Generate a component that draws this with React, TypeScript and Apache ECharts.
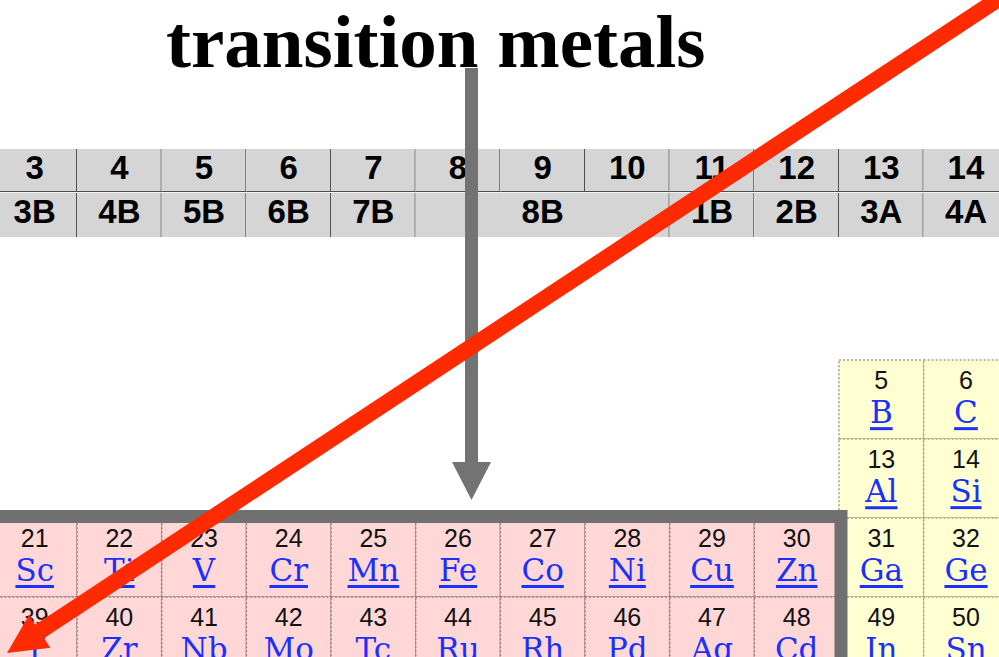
import React, { useEffect, useRef } from 'react';
import * as echarts from 'echarts';

// ---- data ----
const titleText = 'transition metals';
const groupNumbers = [3, 4, 5, 6, 7, 8, 9, 10, 11, 12, 13, 14];
const casLabels = ['3B', '4B', '5B', '6B', '7B', '8B', '1B', '2B', '3A', '4A'];
const casSpans = [1, 1, 1, 1, 1, 3, 1, 1, 1, 1];

const symbols = ['B', 'C', 'Al', 'Si',
  'Sc', 'Ti', 'V', 'Cr', 'Mn', 'Fe', 'Co', 'Ni', 'Cu', 'Zn', 'Ga', 'Ge',
  'Y', 'Zr', 'Nb', 'Mo', 'Tc', 'Ru', 'Rh', 'Pd', 'Ag', 'Cd', 'In', 'Sn'];
const atomicNumbers = [5, 6, 13, 14,
  21, 22, 23, 24, 25, 26, 27, 28, 29, 30, 31, 32,
  39, 40, 41, 42, 43, 44, 45, 46, 47, 48, 49, 50];
const elementGroups = [13, 14, 13, 14,
  3, 4, 5, 6, 7, 8, 9, 10, 11, 12, 13, 14,
  3, 4, 5, 6, 7, 8, 9, 10, 11, 12, 13, 14];
const elementPeriods = [2, 2, 3, 3,
  4, 4, 4, 4, 4, 4, 4, 4, 4, 4, 4, 4,
  5, 5, 5, 5, 5, 5, 5, 5, 5, 5, 5, 5];
const elementBlocks = ['p', 'p', 'p', 'p',
  'd', 'd', 'd', 'd', 'd', 'd', 'd', 'd', 'd', 'd', 'p', 'p',
  'd', 'd', 'd', 'd', 'd', 'd', 'd', 'd', 'd', 'd', 'p', 'p'];

const boxGroups = [3, 12];
const boxPeriods = [4, 7];

// ---- styles ----
const PINK = '#ffd7d7';
const YELLOW = '#ffffd2';
const BLUE = '#1a30ff';
const HEADER_BG = '#d5d5d5';
const ARROW_GRAY = '#737373';
const RED = '#ff2a00';
const SYMBOL_FONT = '31px "DejaVu Serif"';
const NUMBER_FONT = '25px "Liberation Sans"';
const HEADER_FONT = 'bold 33px "Liberation Sans"';

let measureCtx: CanvasRenderingContext2D | null = null;
function measure(text: string, font: string): number {
  if (!measureCtx) measureCtx = document.createElement('canvas').getContext('2d');
  if (!measureCtx) return text.length * 18;
  measureCtx.font = font;
  return measureCtx.measureText(text).width;
}

const headerLabels: string[] = [...groupNumbers.map(String), ...casLabels];
const headerData: number[][] = [];
groupNumbers.forEach((g, i) => headerData.push([g, g, 0, i]));
{
  let start = groupNumbers[0];
  casLabels.forEach((_, i) => {
    headerData.push([start, start + casSpans[i] - 1, 1, groupNumbers.length + i]);
    start += casSpans[i];
  });
}

const elementData = symbols.map((_, i) => [elementGroups[i], elementPeriods[i], i]);
const boxData = [[boxGroups[0], boxGroups[1], boxPeriods[0], boxPeriods[1]]];

function txt(x: number, y: number, text: string, font: string, fill: string) {
  return {
    type: 'text',
    x, y,
    style: {
      text, font, fill,
      align: 'center', verticalAlign: 'middle',
      textAlign: 'center', textVerticalAlign: 'middle',
    },
  };
}

const headerRender = (_params: any, api: any) => {
  const x0 = api.value(0), x1 = api.value(1), row = api.value(2), li = api.value(3);
  const tl = api.coord([x0 - 0.5, row]);
  const br = api.coord([x1 + 0.5, row + 1]);
  const x = tl[0], y = tl[1], w = br[0] - tl[0], h = br[1] - tl[1];
  const children: any[] = [
    { type: 'rect', shape: { x, y, width: w, height: h }, style: { fill: HEADER_BG } },
    { type: 'line', shape: { x1: br[0] - 0.5, y1: y, x2: br[0] - 0.5, y2: br[1] }, style: { stroke: '#4d4d4d', lineWidth: 1 } },
    { type: 'line', shape: { x1: br[0] + 0.5, y1: y, x2: br[0] + 0.5, y2: br[1] }, style: { stroke: '#f4f4f4', lineWidth: 1 } },
  ];
  if (row === 0) {
    children.push({ type: 'line', shape: { x1: x, y1: br[1] - 1.5, x2: br[0], y2: br[1] - 1.5 }, style: { stroke: '#4d4d4d', lineWidth: 1 } });
    children.push({ type: 'line', shape: { x1: x, y1: br[1] - 0.5, x2: br[0], y2: br[1] - 0.5 }, style: { stroke: '#f4f4f4', lineWidth: 1 } });
  }
  const ty = y + h * (row === 0 ? 0.43 : 0.41);
  children.push(txt((x + br[0]) / 2, ty, headerLabels[li], HEADER_FONT, '#000'));
  return { type: 'group', children };
};

const elementRender = (_params: any, api: any) => {
  const g = api.value(0), p = api.value(1), i = api.value(2);
  const tl = api.coord([g - 0.5, p - 0.5]);
  const br = api.coord([g + 0.5, p + 0.5]);
  const x = tl[0], y = tl[1], w = br[0] - tl[0], h = br[1] - tl[1];
  const isD = elementBlocks[i] === 'd';
  const sym = symbols[i];
  const cx = x + w / 2;
  const tw = measure(sym, SYMBOL_FONT);
  return {
    type: 'group',
    children: [
      {
        type: 'rect', shape: { x, y, width: w, height: h },
        style: { fill: isD ? PINK : YELLOW, stroke: isD ? '#8f7a7a' : '#a3a378', lineWidth: 1.5, lineDash: [2, 2] },
      },
      txt(cx, y + h * 0.253, String(atomicNumbers[i]), NUMBER_FONT, '#111'),
      txt(cx, y + h * 0.66, sym, SYMBOL_FONT, BLUE),
      { type: 'rect', shape: { x: cx - tw / 2, y: y + h * 0.85, width: tw, height: 3 }, style: { fill: BLUE } },
    ],
  };
};

const boxRender = (_params: any, api: any) => {
  const tl = api.coord([api.value(0) - 0.5, api.value(2) - 0.5]);
  const br = api.coord([api.value(1) + 0.5, api.value(3) + 0.5]);
  return {
    type: 'rect',
    shape: { x: tl[0], y: tl[1] - 1.5, width: br[0] - tl[0] + 2, height: br[1] - tl[1] },
    style: { fill: 'none', stroke: '#707070', lineWidth: 13 },
  };
};

export default function App() {
  const ref = useRef<HTMLDivElement>(null);
  useEffect(() => {
    document.body.style.margin = '0';
    if (!ref.current) return;
    const chart = echarts.init(ref.current, undefined, { renderer: 'svg' });
    chart.setOption({
      animation: false,
      backgroundColor: '#ffffff',
      title: {
        text: titleText,
        left: 166,
        top: 4,
        padding: 0,
        textStyle: { fontFamily: 'Liberation Serif', fontWeight: 'bold', fontSize: 75, color: '#000' },
      },
      grid: [
        { left: 0, right: 0, top: 149, height: 88 },
        { left: 0, right: 0, top: 360, bottom: 0 },
      ],
      xAxis: [
        { type: 'value', gridIndex: 0, min: 2.59, max: 14.39, show: false },
        { type: 'value', gridIndex: 1, min: 2.59, max: 14.39, show: false },
      ],
      yAxis: [
        { type: 'value', gridIndex: 0, min: 0, max: 2, inverse: true, show: false },
        { type: 'value', gridIndex: 1, min: 1.5, max: 5.26, inverse: true, show: false },
      ],
      series: [
        { type: 'custom', name: 'groups', xAxisIndex: 0, yAxisIndex: 0, renderItem: headerRender, data: headerData, z: 1 },
        { type: 'custom', name: 'elements', xAxisIndex: 1, yAxisIndex: 1, renderItem: elementRender, data: elementData, z: 2 },
        { type: 'custom', name: 'transition box', xAxisIndex: 1, yAxisIndex: 1, renderItem: boxRender, data: boxData, z: 3 },
      ],
      graphic: [
        { type: 'rect', z: 100, shape: { x: 465, y: 68, width: 13, height: 395 }, style: { fill: ARROW_GRAY } },
        { type: 'polygon', z: 100, shape: { points: [[452, 462], [491, 462], [471.5, 500]] }, style: { fill: ARROW_GRAY } },
        { type: 'line', z: 101, shape: { x1: 1012, y1: -10, x2: 32, y2: 636.5 }, style: { stroke: RED, lineWidth: 16 } },
        { type: 'polygon', z: 101, shape: { points: [[7, 653], [28.9, 615.2], [50.3, 647.8]] }, style: { fill: RED } },
      ],
    });
    return () => chart.dispose();
  }, []);
  return <div ref={ref} style={{ width: 999, height: 657 }} />;
}
